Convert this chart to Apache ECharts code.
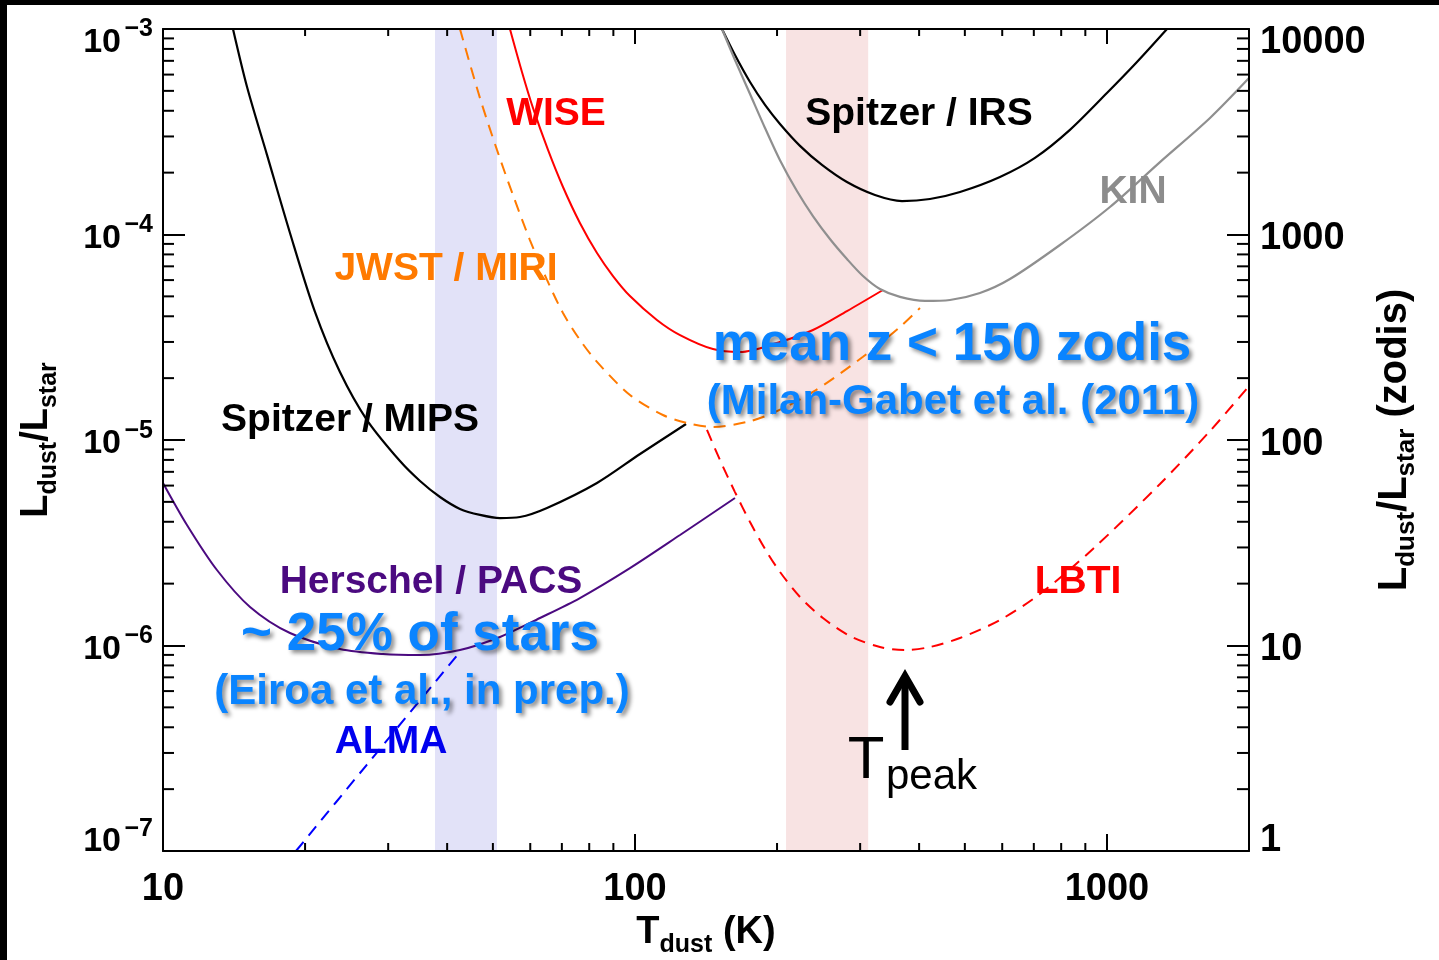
<!DOCTYPE html>
<html>
<head>
<meta charset="utf-8">
<title>Dust luminosity sensitivity</title>
<script src="https://cdn.jsdelivr.net/npm/echarts@6/dist/echarts.min.js"></script>
<style>
  html, body { margin: 0; padding: 0; background: #fff; }
  #main { width: 1439px; height: 960px; }
</style>
</head>
<body>
<div id="main"></div>
<script>
var FONT = '"Liberation Sans", Arial, Helvetica, sans-serif';

// dust temperature (K) vs Ldust/Lstar
var mipsT = [14.07, 15.07, 16.61, 18.58, 20.99, 23.71, 27.05, 31.78, 35.04, 38.63, 42.58, 46.95, 51.76, 57.06, 65.11, 83.09, 102.5, 128.3];
var mipsL = [1.0e-3, 5.22e-4, 2.44e-4, 1.017e-4, 4.20e-5, 2.14e-5, 1.251e-5, 7.90e-6, 6.32e-6, 5.28e-6, 4.62e-6, 4.32e-6, 4.17e-6, 4.22e-6, 4.67e-6, 6.18e-6, 8.55e-6, 1.196e-5];

var pacsT = [10, 11.24, 13.01, 15.29, 18.58, 23.71, 29.25, 35.04, 42.58, 51.76, 62.92, 76.45, 97.59, 124.6, 162.9];
var pacsL = [6.18e-6, 3.86e-6, 2.33e-6, 1.54e-6, 1.150e-6, 9.62e-7, 9.09e-7, 8.99e-7, 9.51e-7, 1.100e-6, 1.361e-6, 1.702e-6, 2.38e-6, 3.45e-6, 5.22e-6];

var almaT = [19.13, 27.0, 42.58];
var almaL = [1.0e-7, 2.62e-7, 9.30e-7];

var miriT = [42.58, 46.95, 51.01, 55.14, 59.9, 65.11, 70.39, 76.45, 83.09, 97.59, 114.6, 128.9, 146.3, 172.7, 196.1, 238.3, 304.2, 364.3, 401.7];
var miriL = [1.0e-3, 4.61e-4, 2.58e-4, 1.557e-4, 9.40e-5, 6.01e-5, 4.15e-5, 3.07e-5, 2.40e-5, 1.656e-5, 1.323e-5, 1.210e-5, 1.157e-5, 1.224e-5, 1.353e-5, 1.713e-5, 2.54e-5, 3.55e-5, 4.39e-5];

var wiseT = [54.34, 57.62, 60.8, 65.43, 70.39, 76.45, 83.09, 89.84, 97.59, 111.3, 124.6, 146.3, 166.9, 202.9, 238.3, 281.3, 335.3];
var wiseL = [1.0e-3, 6.18e-4, 4.13e-4, 2.58e-4, 1.703e-4, 1.138e-4, 8.13e-5, 6.28e-5, 5.02e-5, 3.84e-5, 3.24e-5, 2.77e-5, 2.68e-5, 3.00e-5, 3.43e-5, 4.24e-5, 5.37e-5];

var irsT = [152.9, 162.9, 175.3, 188.6, 202.9, 223.7, 249.0, 281.3, 322.5, 368.0, 421.7, 488.3, 593.4, 703.9, 834.9, 1000, 1157.8, 1340.6];
var irsL = [1.0e-3, 7.47e-4, 5.52e-4, 4.27e-4, 3.45e-4, 2.70e-4, 2.18e-4, 1.80e-4, 1.557e-4, 1.455e-4, 1.488e-4, 1.61e-4, 1.905e-4, 2.36e-4, 3.23e-4, 4.88e-4, 6.91e-4, 1.0e-3];

var kinT = [152.9, 162.9, 175.3, 188.6, 202.9, 220.4, 238.3, 258.9, 281.3, 304.2, 330.4, 364.3, 411.6, 465.0, 538.2, 623.0, 795.1, 1014.8, 1295.5, 1653.5, 2000];
var kinL = [1.0e-3, 7.07e-4, 4.83e-4, 3.30e-4, 2.30e-4, 1.628e-4, 1.230e-4, 9.51e-5, 7.60e-5, 6.28e-5, 5.43e-5, 4.97e-5, 4.75e-5, 4.80e-5, 5.19e-5, 6.07e-5, 8.89e-5, 1.361e-4, 2.25e-4, 3.69e-4, 5.77e-4];

var lbtiT = [142.1, 151.4, 162.9, 175.3, 188.6, 202.9, 223.7, 250.2, 285.5, 330.4, 373.3, 421.7, 488.3, 593.4, 721.1, 933.9, 1295.5, 1653.5, 2000];
var lbtiL = [1.119e-5, 7.99e-6, 5.58e-6, 3.99e-6, 2.95e-6, 2.28e-6, 1.722e-6, 1.361e-6, 1.112e-6, 9.83e-7, 9.51e-7, 9.83e-7, 1.088e-6, 1.331e-6, 1.781e-6, 2.95e-6, 6.11e-6, 1.106e-5, 1.83e-5];

// shaded temperature ranges (K)
var coldBand = [37.7, 51];
var hzBand = [209, 312];

// minor tick positions
var xMinorTicks = [20, 30, 40, 50, 60, 70, 80, 90, 200, 300, 400, 500, 600, 700, 800, 900];
var yMinorTicks = [2e-7, 3e-7, 4e-7, 5e-7, 6e-7, 7e-7, 8e-7, 9e-7,
                   2e-6, 3e-6, 4e-6, 5e-6, 6e-6, 7e-6, 8e-6, 9e-6,
                   2e-5, 3e-5, 4e-5, 5e-5, 6e-5, 7e-5, 8e-5, 9e-5,
                   2e-4, 3e-4, 4e-4, 5e-4, 6e-4, 7e-4, 8e-4, 9e-4];

var xMin = 10, xMax = 2000, yMin = 1e-7, yMax = 1e-3;

function pairs(xs, ys) {
  var out = [];
  for (var i = 0; i < xs.length; i++) out.push([xs[i], ys[i]]);
  return out;
}

function curve(name, xs, ys, color, width, dashed) {
  return {
    name: name,
    type: 'line',
    data: pairs(xs, ys),
    showSymbol: false,
    symbol: 'none',
    smooth: 0.3,
    silent: true,
    z: 3,
    lineStyle: { color: color, width: width, type: dashed ? [12, 8] : 'solid' }
  };
}

function minorTicks(values, isX) {
  return {
    type: 'custom',
    silent: true,
    z: 6,
    data: values.map(function (v) { return isX ? [v, yMin] : [xMin, v]; }),
    renderItem: function (params, api) {
      var p = api.coord([api.value(0), api.value(1)]);
      var cs = params.coordSys;
      var st = { stroke: '#000', lineWidth: 2 };
      if (isX) {
        var yb = cs.y + cs.height;
        return { type: 'group', children: [
          { type: 'line', shape: { x1: p[0], y1: yb, x2: p[0], y2: yb - 8 }, style: st },
          { type: 'line', shape: { x1: p[0], y1: cs.y, x2: p[0], y2: cs.y + 7 }, style: st }
        ] };
      }
      var xr = cs.x + cs.width;
      return { type: 'group', children: [
        { type: 'line', shape: { x1: cs.x, y1: p[1], x2: cs.x + 11, y2: p[1] }, style: st },
        { type: 'line', shape: { x1: xr, y1: p[1], x2: xr - 12, y2: p[1] }, style: st }
      ] };
    }
  };
}

function expOf(v) {
  return Math.round(Math.log(v) / Math.LN10);
}

// superscript sits on its own short line above the "10"
function leftLabel(v) {
  var e = expOf(v);
  var s = '{sup|\u2212' + (-e) + '}';
  var n = '{num|10}{gap| }';
  if (e === -3) return '{p14| }\n' + s + '\n' + n;
  if (e === -7) return s + '\n' + n + '\n{p31| }';
  return s + '\n' + n + '\n{p5| }';
}

function rightLabel(v) {
  var e = expOf(v);
  var t = '{num|' + Math.round(Math.pow(10, e)) + '}';
  if (e === 4) return '{p27| }\n' + t;
  if (e === 0) return t + '\n{p21| }';
  return '{p9| }\n' + t;
}

var axisLine = { show: true, onZero: false, lineStyle: { color: '#000', width: 2 } };

var chart = echarts.init(document.getElementById('main'), null, { renderer: 'canvas' });

var blue = '#0a84ff';
var shadow = { textShadowColor: 'rgba(0,0,0,0.45)', textShadowBlur: 4, textShadowOffsetX: 3, textShadowOffsetY: 3 };

function label(text, x, y, color, size, extra) {
  var st = {
    text: text, fill: color, font: 'bold ' + size + 'px ' + FONT,
    align: 'center', textAlign: 'center', verticalAlign: 'middle', textVerticalAlign: 'middle'
  };
  if (extra) for (var k in extra) st[k] = extra[k];
  return { type: 'text', x: x, y: y, z: 100, style: st };
}

function titleRich(big, small) {
  return {
    L: { fontSize: big, fontWeight: 'bold', fontFamily: FONT, lineHeight: 50, fill: '#000', color: '#000' },
    sub: { fontSize: small, fontWeight: 'bold', fontFamily: FONT, lineHeight: 22, verticalAlign: 'bottom', fill: '#000', color: '#000' }
  };
}

var padStyles = {
  p5: { fontSize: 1, lineHeight: 5 },
  p9: { fontSize: 1, lineHeight: 9 },
  p14: { fontSize: 1, lineHeight: 14 },
  p21: { fontSize: 1, lineHeight: 21 },
  p27: { fontSize: 1, lineHeight: 27 },
  p31: { fontSize: 1, lineHeight: 31 }
};

function richWith(extra) {
  var r = {};
  for (var k in padStyles) r[k] = padStyles[k];
  for (var j in extra) r[j] = extra[j];
  return r;
}

var option = {
  animation: false,
  backgroundColor: '#fff',
  grid: { left: 163, top: 29, right: 190, bottom: 109, containLabel: false, outerBoundsMode: 'none' },
  xAxis: [
    {
      type: 'log', logBase: 10, min: xMin, max: xMax, position: 'bottom', z: 5,
      axisLine: axisLine,
      axisTick: { show: true, inside: true, length: 17, lineStyle: { color: '#000', width: 2 } },
      axisLabel: {
        show: true, showMaxLabel: false, margin: 20, color: '#000', fontSize: 38, fontWeight: 'bold', fontFamily: FONT,
        formatter: function (v) { return String(Math.round(v)); }
      },
      splitLine: { show: false }
    },
    {
      type: 'log', logBase: 10, min: xMin, max: xMax, position: 'top', z: 5,
      axisLine: axisLine,
      axisTick: { show: true, inside: true, length: 15, lineStyle: { color: '#000', width: 2 } },
      axisLabel: { show: false },
      splitLine: { show: false }
    }
  ],
  yAxis: [
    {
      type: 'log', logBase: 10, min: yMin, max: yMax, position: 'left', z: 5,
      axisLine: axisLine,
      axisTick: { show: true, inside: true, length: 22, lineStyle: { color: '#000', width: 2 } },
      axisLabel: {
        show: true, margin: 10, color: '#000', fontFamily: FONT, fontWeight: 'bold',
        formatter: leftLabel,
        rich: richWith({
          num: { fontSize: 34, fontWeight: 'bold', fontFamily: FONT, lineHeight: 13 },
          sup: { fontSize: 25, fontWeight: 'bold', fontFamily: FONT, lineHeight: 13 },
          gap: { fontSize: 1, width: 32, lineHeight: 13 }
        })
      },
      splitLine: { show: false }
    },
    {
      type: 'log', logBase: 10, min: 1, max: 10000, position: 'right', z: 5,
      axisLine: axisLine,
      axisTick: { show: true, inside: true, length: 22, lineStyle: { color: '#000', width: 2 } },
      axisLabel: {
        show: true, margin: 11, color: '#000', fontFamily: FONT, fontWeight: 'bold',
        formatter: rightLabel,
        rich: richWith({
          num: { fontSize: 38, fontWeight: 'bold', fontFamily: FONT, lineHeight: 13 }
        })
      },
      splitLine: { show: false }
    }
  ],
  series: [
    {
      name: 'bands', type: 'line', data: [], silent: true,
      markArea: {
        silent: true,
        data: [
          [{ xAxis: coldBand[0], itemStyle: { color: '#e2e2f8' } }, { xAxis: coldBand[1] }],
          [{ xAxis: hzBand[0], itemStyle: { color: '#f8e3e3' } }, { xAxis: hzBand[1] }]
        ]
      }
    },
    curve('Spitzer / MIPS', mipsT, mipsL, '#000', 2.2, false),
    curve('Herschel / PACS', pacsT, pacsL, '#4b0a80', 2, false),
    curve('ALMA', almaT, almaL, '#0000ff', 2, true),
    curve('JWST / MIRI', miriT, miriL, '#ff7a00', 2, true),
    curve('WISE', wiseT, wiseL, '#ff0000', 2, false),
    curve('Spitzer / IRS', irsT, irsL, '#000', 2.2, false),
    curve('KIN', kinT, kinL, '#8f8f8f', 2.2, false),
    curve('LBTI', lbtiT, lbtiL, '#ff0000', 2, true),
    minorTicks(xMinorTicks, true),
    minorTicks(yMinorTicks, false)
  ],
  graphic: [
    { type: 'rect', z: 200, shape: { x: 0, y: 0, width: 1439, height: 5 }, style: { fill: '#000' } },
    { type: 'rect', z: 200, shape: { x: 0, y: 0, width: 7, height: 960 }, style: { fill: '#000' } },

    label('WISE', 556, 114, '#ff0000', 39),
    label('JWST / MIRI', 446, 269, '#ff7a00', 39),
    label('Spitzer / IRS', 919, 114, '#000', 39),
    label('KIN', 1133, 192, '#8c8c8c', 39),
    label('Spitzer / MIPS', 350, 420, '#000', 39),
    label('Herschel / PACS', 431, 582, '#4b0a80', 39),
    label('ALMA', 391, 742, '#0000ee', 39),
    label('LBTI', 1078, 582, '#ff0000', 39),
    label('mean z < 150 zodis', 952, 345, blue, 53, shadow),
    label('(Milan-Gabet et al. (2011)', 953, 402, blue, 42, shadow),
    label('~ 25% of stars', 420, 635, blue, 53, shadow),
    label('(Eiroa et al., in prep.)', 422, 692, blue, 42, shadow),

    { type: 'text', x: 866, y: 761, z: 100,
      style: { text: 'T', fill: '#000', font: '60px ' + FONT, align: 'center', textAlign: 'center', verticalAlign: 'middle', textVerticalAlign: 'middle' } },
    { type: 'text', x: 886, y: 777, z: 100,
      style: { text: 'peak', fill: '#000', font: '42px ' + FONT, align: 'left', textAlign: 'left', verticalAlign: 'middle', textVerticalAlign: 'middle' } },
    { type: 'line', z: 100, shape: { x1: 905, y1: 750, x2: 905, y2: 678 }, style: { stroke: '#000', lineWidth: 7 } },
    { type: 'polyline', z: 100, shape: { points: [[890, 702], [905, 676], [920, 702]] },
      style: { stroke: '#000', lineWidth: 7, lineCap: 'round', lineJoin: 'miter', fill: null } },

    // axis titles
    { type: 'text', x: 706, y: 933, z: 100,
      style: { text: '{L|T}{sub|dust}{L| (K)}', rich: titleRich(38, 25), align: 'center', textAlign: 'center', verticalAlign: 'middle', textVerticalAlign: 'middle' } },
    { type: 'text', x: 37, y: 440, z: 100, rotation: Math.PI / 2,
      style: { text: '{L|L}{sub|dust}{L|/L}{sub|star}', rich: titleRich(38, 25), align: 'center', textAlign: 'center', verticalAlign: 'middle', textVerticalAlign: 'middle' } },
    { type: 'text', x: 1395, y: 440, z: 100, rotation: Math.PI / 2,
      style: { text: '{L|L}{sub|dust}{L|/L}{sub|star}{L| (zodis)}', rich: titleRich(40, 26), align: 'center', textAlign: 'center', verticalAlign: 'middle', textVerticalAlign: 'middle' } }
  ]
};

chart.setOption(option);
</script>
</body>
</html>
